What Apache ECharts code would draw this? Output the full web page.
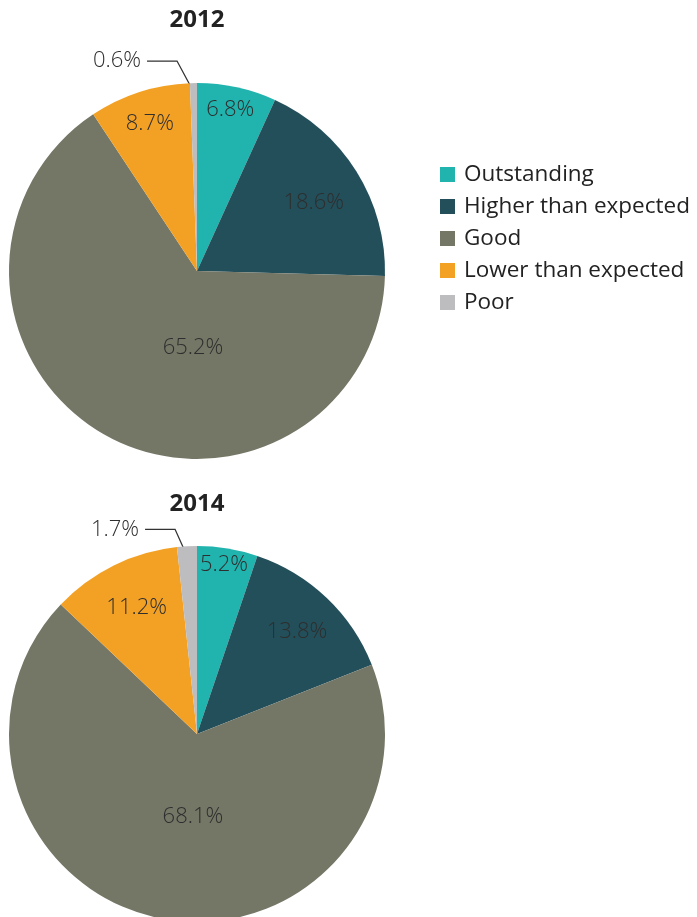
<!DOCTYPE html>
<html>
<head>
<meta charset="utf-8">
<script src="https://cdn.jsdelivr.net/npm/echarts@6/dist/echarts.min.js"></script>
<style>
  html, body { margin: 0; padding: 0; background: #fff; }
  #main { width: 697px; height: 917px; }
</style>
</head>
<body>
<div id="main"></div>
<script>
var categories = ["Outstanding", "Higher than expected", "Good", "Lower than expected", "Poor"];
var years = ["2012", "2014"];
var values2012 = [6.8, 18.6, 65.2, 8.7, 0.6];
var values2014 = [5.2, 13.8, 68.1, 11.2, 1.7];

var colors = ["#21b3ae", "#234f5b", "#747766", "#f3a125", "#bdbdc0"];

// where the inside labels sit: angle (deg, clockwise from top) and share of radius
var labelAngle2012 = [11.7, 59.6, 183, 342.2, null];
var labelRadius2012 = [0.874, 0.72, 0.41, 0.82, null];
var labelAngle2014 = [9.1, 44.4, 182.8, 334.5, null];
var labelRadius2014 = [0.91, 0.76, 0.44, 0.745, null];

var R = 188;
var centers = [[197, 271], [197, 734]];
var poorLine = [[22, 46], [17, 41]];
// tilt of the "Poor" leader line: start dx, start dy, elbow dx
var poorTilt = [[-3, 3, -16], [2, 14, -11]];

function makeData(vals) {
  return categories.map(function (name, i) {
    var item = { name: name, value: vals[i] };
    if (name === "Poor") {
      item.label = { position: "outside", distanceToLabelLine: 6 };
      item.labelLine = { show: true };
    }
    return item;
  });
}

function makeLayout(idx, ang, rad) {
  var center = centers[idx];
  return function (p) {
    var a = ang[p.dataIndex];
    if (a == null) {
      var pts = p.labelLinePoints;
      if (!pts) return {};
      var tl = poorTilt[idx];
      return {
        labelLinePoints: [
          [pts[0][0] + tl[0], pts[0][1] + tl[1]],
          [pts[1][0] + tl[2], pts[1][1]],
          [pts[2][0], pts[2][1]]
        ]
      };
    }
    var t = a * Math.PI / 180;
    var d = rad[p.dataIndex] * R;
    return {
      x: center[0] + Math.sin(t) * d,
      y: center[1] - Math.cos(t) * d,
      align: "center",
      verticalAlign: "middle"
    };
  };
}

function makeSeries(idx, vals, ang, rad) {
  return {
    type: "pie",
    name: years[idx],
    center: centers[idx],
    radius: [0, R],
    startAngle: 90,
    clockwise: true,
    avoidLabelOverlap: false,
    silent: true,
    data: makeData(vals),
    label: {
      show: true,
      position: "inside",
      formatter: "{c}%",
      color: "#2e2e2e",
      fontFamily: "Open Sans",
      fontWeight: "lighter",
      fontSize: 22
    },
    labelLine: {
      show: false,
      length: poorLine[idx][0],
      length2: poorLine[idx][1],
      lineStyle: { color: "#333", width: 1.3 }
    },
    labelLayout: makeLayout(idx, ang, rad)
  };
}

var myChart = echarts.init(document.getElementById("main"));
var titleStyle = { fontFamily: "Open Sans", fontWeight: "bold", fontSize: 24, color: "#222" };
var option = {
  animation: false,
  color: colors,
  title: [
    { text: years[0], left: 197, top: 8, padding: 0, textAlign: "center", textStyle: titleStyle },
    { text: years[1], left: 197, top: 492, padding: 0, textAlign: "center", textStyle: titleStyle }
  ],
  legend: {
    orient: "vertical",
    left: 440,
    top: 163,
    padding: 0,
    icon: "rect",
    itemWidth: 15,
    itemHeight: 15,
    itemGap: 9,
    data: categories,
    textStyle: { fontFamily: "Open Sans", fontSize: 22.5, color: "#222", padding: [0, 0, 0, 4] }
  },
  series: [
    makeSeries(0, values2012, labelAngle2012, labelRadius2012),
    makeSeries(1, values2014, labelAngle2014, labelRadius2014)
  ]
};
myChart.setOption(option);
</script>
</body>
</html>
